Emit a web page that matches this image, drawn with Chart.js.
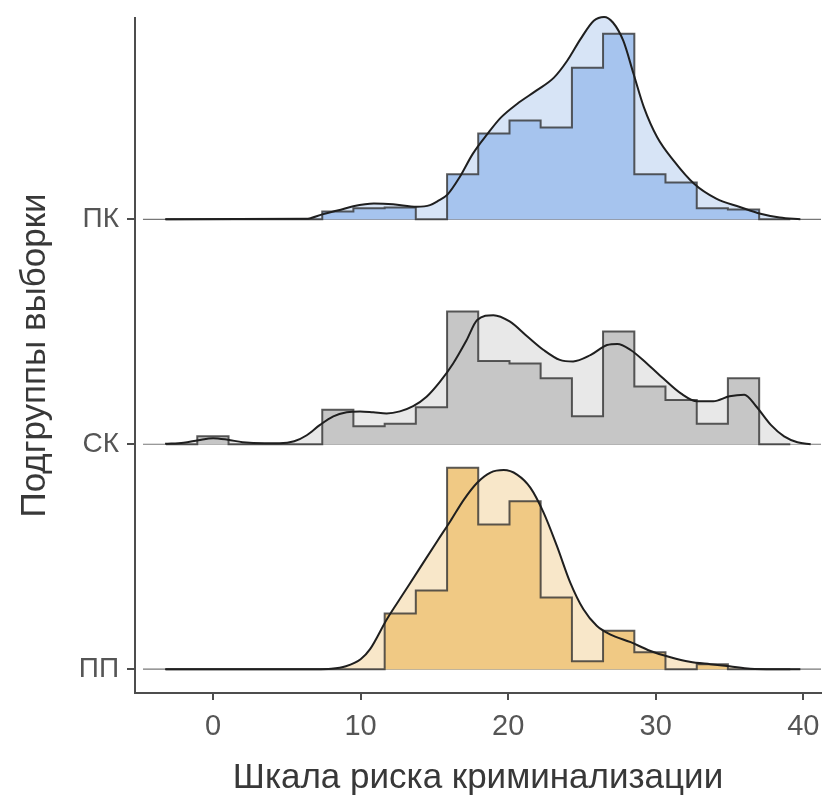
<!DOCTYPE html>
<html lang="ru">
<head>
<meta charset="UTF-8">
<title>Шкала риска криминализации</title>
<script src="https://cdn.jsdelivr.net/npm/chart.js"></script>
<style>
  html, body { margin: 0; padding: 0; background: #fff; }
  #wrap { width: 822px; height: 803px; position: relative; }
</style>
</head>
<body>
<div id="wrap"><canvas id="ridgeChart"></canvas></div>
<script>
// Groups from bottom to top, and their ridge levels on the y scale
const groupLabels = ['ПП', 'СК', 'ПК'];
const groupLevels = [100, 200, 300];
const xTicks = [0, 10, 20, 30, 40];

// Shared histogram bin edges (20 bins)
const binEdges = [-3.19, -1.07, 1.05, 3.16, 5.28, 7.40, 9.51, 11.63, 13.74, 15.86,
                  17.97, 20.09, 22.20, 24.32, 26.43, 28.55, 30.66, 32.78, 34.89, 37.01, 39.12];

// Histogram heights per bin, in % of ridge spacing
const histPP = [0, 0, 0, 0, 0, 0, 0, 24.8, 35.0, 89.6, 64.3, 74.7, 31.9, 3.5, 17.1, 7.5, 0, 2.2, 0, 0];
const histSK = [0, 3.5, 0, 0, 0, 15.3, 8.0, 9.1, 16.4, 59.0, 37.0, 35.9, 29.3, 12.4, 50.1, 25.7, 19.7, 9.1, 29.3, 0];
const histPK = [0, 0, 0, 0, 0, 3.5, 4.9, 5.3, 0, 20.0, 38.1, 43.9, 40.8, 67.4, 82.5, 20.0, 16.4, 4.9, 4.4, 0];

// Density curves (x = score, value = height in % of ridge spacing)
const densXPP = [-3.25, 7.0, 8.0, 9.0, 10.0, 10.64, 11.78, 12.9, 14.0, 15.2, 16.1, 17.0, 17.9, 18.8, 19.7, 20.6,
                 21.5, 22.4, 23.3, 24.2, 25.1, 26.0, 26.9, 28.3, 29.6, 31.0, 32.3, 33.7, 35.0, 36.4, 38.0, 39.8];
const densPP  = [0, 0, 0.2, 1.3, 4.4, 8.9, 22.2, 33.6, 44.8, 57.0, 66.0, 75.4, 82.9, 87.4, 88.5, 86.5,
                 80.7, 69.6, 54.8, 38.6, 26.6, 19.3, 15.5, 12.0, 8.2, 5.3, 3.3, 2.2, 1.3, 0.2, 0, 0];

const densXSK = [-3.25, -2, -1, 0, 1, 2, 3.5, 4.5, 5.5, 6.35, 7.25, 8.15, 9.06, 9.96, 10.86, 11.76, 12.66, 13.56,
                 14.47, 15.37, 16.27, 17.17, 17.9, 19.0, 20.1, 21.3, 22.4, 23.5, 24.4, 25.6, 26.7, 27.4, 28.3,
                 29.4, 30.5, 31.7, 32.8, 33.9, 35.0, 36.0, 36.8, 37.8, 38.7, 39.6, 40.5];
const densSK  = [0.2, 0.7, 1.8, 2.7, 2.0, 0.9, 0.4, 0.4, 1.3, 4.0, 8.6, 12.4, 14.2, 14.6, 14.2, 13.7, 14.6, 16.9,
                 21.1, 27.7, 35.9, 46.1, 55.2, 57.4, 54.6, 47.9, 41.9, 37.5, 36.8, 39.7, 44.1, 44.6, 41.9,
                 35.9, 29.3, 22.6, 19.1, 19.1, 21.3, 22.0, 16.9, 8.6, 3.5, 0.9, 0];

const densXPK = [-3.25, 6.3, 7.4, 8.5, 9.5, 10.9, 12.2, 13.8, 14.7, 15.2, 15.9, 16.7, 17.6, 18.6, 19.5, 20.6, 21.9,
                 23.1, 24.0, 24.9, 25.8, 26.5, 27.1, 27.8, 28.5, 29.2, 30.1, 31.2, 32.6, 34.1, 35.7, 37.1, 38.4, 39.8];
const densPK  = [0, 0.2, 2.2, 4.0, 5.8, 7.0, 6.7, 5.6, 6.3, 8.0, 11.1, 18.6, 29.1, 38.0, 45.2, 51.3, 57.2,
                 63.0, 70.5, 80.1, 88.3, 90.0, 87.5, 79.4, 64.6, 49.8, 36.5, 26.2, 15.8, 9.2, 5.5, 2.5, 0.8, 0];

const FONT = "'Liberation Sans', Arial, sans-serif";

// fill colours: histogram and density area
const groups = [
    { hist: histPP, dx: densXPP, dy: densPP, histColor: '#f0c984', densColor: '#f8e7c9' },
    { hist: histSK, dx: densXSK, dy: densSK, histColor: '#c6c6c6', densColor: '#e8e8e8' },
    { hist: histPK, dx: densXPK, dy: densPK, histColor: '#a6c4ee', densColor: '#d7e4f6' }
];

const datasets = [];
groups.forEach((g, i) => {
    const base = groupLevels[i];
    // step line: each bin value is held from its left edge to the next edge
    const histPts = g.hist.map((h, k) => ({ x: binEdges[k], y: base + h }));
    histPts.push({ x: binEdges[binEdges.length - 1], y: base });
    const densPts = g.dx.map((x, k) => ({ x: x, y: base + g.dy[k] }));

    // thin baseline across the panel
    datasets.push({
        data: [{ x: -4.75, y: base }, { x: 41.2, y: base }],
        borderColor: '#777', borderWidth: 1.2, pointRadius: 0, fill: false, order: 40
    });
    // density area
    datasets.push({
        data: densPts, cubicInterpolationMode: 'monotone',
        borderColor: 'rgba(0,0,0,0)', borderWidth: 0, backgroundColor: g.densColor,
        fill: { value: base }, pointRadius: 0, order: 30
    });
    // histogram
    datasets.push({
        data: histPts, stepped: 'before',
        borderColor: 'rgba(50,50,50,0.8)', borderWidth: 2, backgroundColor: g.histColor,
        fill: { value: base }, pointRadius: 0, order: 20
    });
    // density outline
    datasets.push({
        data: densPts, cubicInterpolationMode: 'monotone',
        borderColor: '#1f1f1f', borderWidth: 2, fill: false, pointRadius: 0, clip: false, order: 10
    });
});

new Chart(document.getElementById('ridgeChart'), {
    type: 'line',
    data: { datasets: datasets },
    options: {
        responsive: true,
        maintainAspectRatio: false,
        animation: false,
        layout: { padding: { top: 18, right: 1, left: 0, bottom: 0 } },
        plugins: {
            legend: { display: false },
            tooltip: { enabled: false }
        },
        scales: {
            x: {
                type: 'linear', min: -5.29, max: 41.2,
                afterBuildTicks: s => { s.ticks = xTicks.map(v => ({ value: v })); },
                afterFit: s => { s.height = 110; s.paddingLeft = 0; s.paddingRight = 0; },
                grid: { drawOnChartArea: false, tickLength: 7, color: '#4d4d4d', lineWidth: 2 },
                border: { color: '#4d4d4d', width: 2 },
                ticks: { color: '#555', font: { family: FONT, size: 29 }, padding: 10, maxRotation: 0 },
                title: {
                    display: true, text: 'Шкала риска криминализации', color: '#383838',
                    font: { family: FONT, size: 35 }, padding: { top: 0, bottom: 4 }
                }
            },
            y: {
                type: 'linear', min: 89.4, max: 389.5,
                afterBuildTicks: s => { s.ticks = groupLevels.map(v => ({ value: v })); },
                afterFit: s => { s.width = 135; s.paddingTop = 0; s.paddingBottom = 0; },
                grid: { drawOnChartArea: false, tickLength: 8, color: '#4d4d4d', lineWidth: 2 },
                border: { color: '#4d4d4d', width: 2 },
                ticks: {
                    color: '#555', font: { family: FONT, size: 28 }, padding: 8,
                    callback: v => groupLabels[groupLevels.indexOf(v)]
                },
                title: {
                    display: true, text: 'Подгруппы выборки', color: '#383838',
                    font: { family: FONT, size: 35 }, padding: { top: 14, bottom: 0 }
                }
            }
        }
    }
});
</script>
</body>
</html>
